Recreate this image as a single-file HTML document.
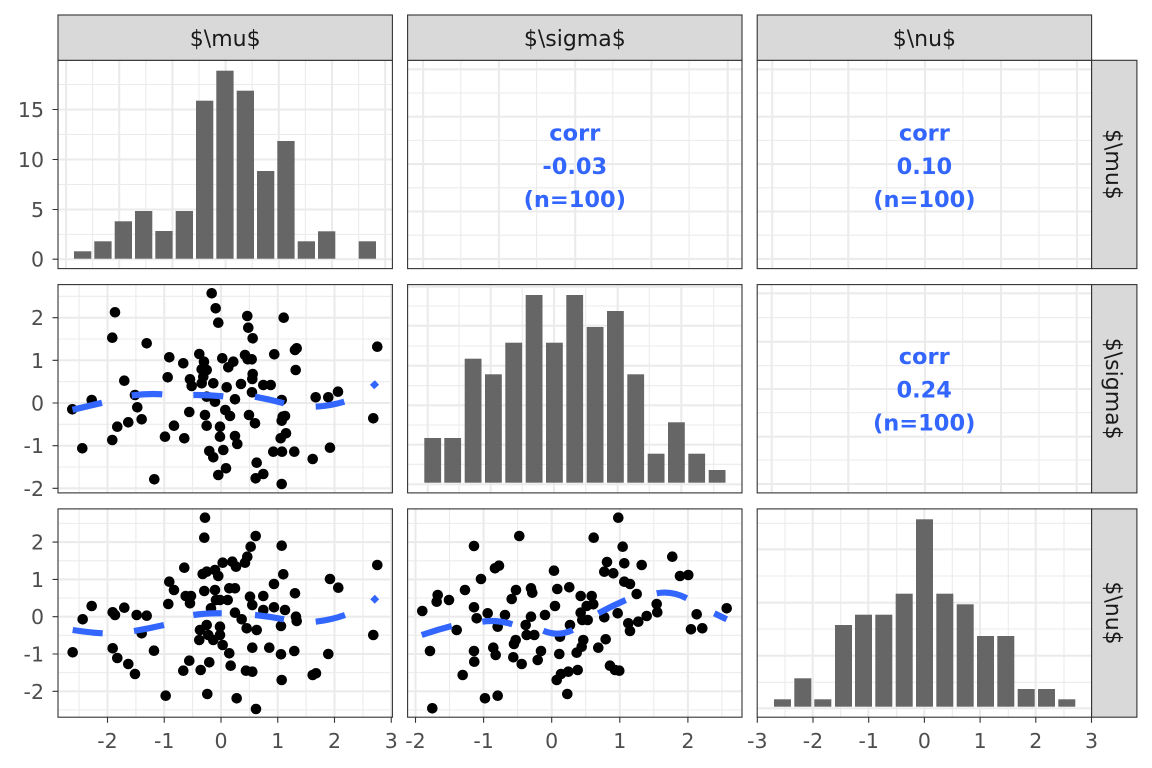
<!DOCTYPE html>
<html><head><meta charset="utf-8"><style>
html,body{margin:0;padding:0;background:#fff;}
svg{display:block;}
.gM{stroke:#EBEBEB;stroke-width:2.1;fill:none;}
.gm{stroke:#EBEBEB;stroke-width:1.05;fill:none;}
.bd{fill:none;stroke:#333;stroke-width:1.1;}
.st{fill:#D9D9D9;stroke:#333;stroke-width:1.1;}
.tx{font-family:"DejaVu Sans","Liberation Sans",sans-serif;font-size:22px;fill:#1A1A1A;}
.ax{font-family:"DejaVu Sans","Liberation Sans",sans-serif;font-size:20.5px;fill:#4D4D4D;}
.cr{font-family:"DejaVu Sans","Liberation Sans",sans-serif;font-size:22.5px;font-weight:bold;fill:#3366FF;}
.bar{fill:#595959;fill-opacity:0.92;}
.sm{fill:none;stroke:#3366FF;stroke-width:6.2;stroke-linecap:butt;}
.tk{stroke:#333;stroke-width:1.1;}
</style></head><body>
<svg width="1152" height="768" viewBox="0 0 1152 768" xmlns="http://www.w3.org/2000/svg">
<rect width="1152" height="768" fill="#fff"/>

<!-- ===== Panel 1,1 ===== -->
<rect x="58" y="60.3" width="334.4" height="208.3" fill="#fff"/>
<path class="gm" d="M92.6 60.3V268.6M145.8 60.3V268.6M199 60.3V268.6M252.2 60.3V268.6M305.4 60.3V268.6M358.6 60.3V268.6M58 234.4H392.4M58 184.5H392.4M58 134.5H392.4M58 84.5H392.4"/>
<path class="gM" d="M66 60.3V268.6M119.2 60.3V268.6M172.4 60.3V268.6M225.6 60.3V268.6M278.8 60.3V268.6M332 60.3V268.6M385.2 60.3V268.6M58 259.2H392.4M58 209.5H392.4M58 159.5H392.4M58 109.5H392.4"/>
<g class="bar">
<rect x="74" y="251.3" width="17.3" height="7.4"/>
<rect x="94.3" y="241.3" width="17.3" height="17.4"/>
<rect x="114.7" y="221.3" width="17.3" height="37.4"/>
<rect x="135" y="211" width="17.3" height="47.7"/>
<rect x="155.3" y="231" width="17.3" height="27.7"/>
<rect x="175.7" y="211" width="17.3" height="47.7"/>
<rect x="196" y="100.7" width="17.3" height="158"/>
<rect x="216.3" y="70.7" width="17.3" height="188"/>
<rect x="236.7" y="90.7" width="17.3" height="168"/>
<rect x="257" y="171" width="17.3" height="87.7"/>
<rect x="277.3" y="141" width="17.3" height="117.7"/>
<rect x="297.7" y="241.3" width="17.3" height="17.4"/>
<rect x="318" y="231.3" width="17.3" height="27.4"/>
<rect x="358.7" y="241.3" width="17.3" height="17.4"/>
</g>
<rect class="bd" x="58" y="60.3" width="334.4" height="208.3"/>

<!-- ===== Panel 1,2 ===== -->
<path class="gm" d="M460.8 60.3V268.6M536.6 60.3V268.6M612.8 60.3V268.6M689.1 60.3V268.6M407.6 93H742M407.6 140.4H742M407.6 187.8H742M407.6 235.2H742"/>
<path class="gM" d="M423.1 60.3V268.6M498.9 60.3V268.6M575.2 60.3V268.6M651.4 60.3V268.6M727.7 60.3V268.6M407.6 69.3H742M407.6 116.7H742M407.6 164.1H742M407.6 211.5H742M407.6 258.9H742"/>
<text class="cr" x="574.8" y="140.5" text-anchor="middle">corr</text>
<text class="cr" x="574.8" y="173.8" text-anchor="middle">-0.03</text>
<text class="cr" x="574.8" y="207.1" text-anchor="middle">(n=100)</text>
<rect class="bd" x="407.6" y="60.3" width="334.4" height="208.3"/>

<!-- ===== Panel 1,3 ===== -->
<path class="gm" d="M810.5 60.3V268.6M886.7 60.3V268.6M962.9 60.3V268.6M1039 60.3V268.6M757.2 93H1091.6M757.2 140.4H1091.6M757.2 187.8H1091.6M757.2 235.2H1091.6"/>
<path class="gM" d="M772.2 60.3V268.6M848.3 60.3V268.6M925 60.3V268.6M1001 60.3V268.6M1077 60.3V268.6M757.2 69.3H1091.6M757.2 116.7H1091.6M757.2 164.1H1091.6M757.2 211.5H1091.6M757.2 258.9H1091.6"/>
<text class="cr" x="924.4" y="140.5" text-anchor="middle">corr</text>
<text class="cr" x="924.4" y="173.8" text-anchor="middle">0.10</text>
<text class="cr" x="924.4" y="207.1" text-anchor="middle">(n=100)</text>
<rect class="bd" x="757.2" y="60.3" width="334.4" height="208.3"/>

<!-- ===== Panel 2,1 ===== -->
<path class="gm" d="M79.1 284.6V492.9M135.9 284.6V492.9M192.6 284.6V492.9M249.4 284.6V492.9M306.1 284.6V492.9M362.9 284.6V492.9M58 296.3H392.4M58 339H392.4M58 381.7H392.4M58 424.3H392.4M58 467H392.4"/>
<path class="gM" d="M107.5 284.6V492.9M164.25 284.6V492.9M221 284.6V492.9M277.75 284.6V492.9M334.5 284.6V492.9M391.25 284.6V492.9M58 317.7H392.4M58 360.3H392.4M58 403H392.4M58 445.7H392.4M58 488.3H392.4"/>
<g fill="#000">
<circle cx="211.7" cy="293.3" r="5.3"/><circle cx="215.7" cy="308.3" r="5.3"/><circle cx="218.3" cy="322.7" r="5.3"/><circle cx="115" cy="312.3" r="5.3"/><circle cx="112.3" cy="337.7" r="5.3"/><circle cx="146.7" cy="343.3" r="5.3"/><circle cx="169.3" cy="357.3" r="5.3"/><circle cx="183.3" cy="363.3" r="5.3"/><circle cx="199.3" cy="354" r="5.3"/><circle cx="204" cy="361.7" r="5.3"/><circle cx="201.7" cy="369.3" r="5.3"/><circle cx="206.7" cy="370" r="5.3"/><circle cx="222.3" cy="358.3" r="5.3"/><circle cx="228.3" cy="367.3" r="5.3"/><circle cx="167.7" cy="377.3" r="5.3"/><circle cx="124.3" cy="380.7" r="5.3"/><circle cx="190" cy="379.3" r="5.3"/><circle cx="191.7" cy="386" r="5.3"/><circle cx="201.7" cy="383.3" r="5.3"/><circle cx="213.3" cy="383.3" r="5.3"/><circle cx="226.7" cy="387.3" r="5.3"/><circle cx="135" cy="395" r="5.3"/><circle cx="91.7" cy="400" r="5.3"/><circle cx="72.3" cy="409.3" r="5.3"/><circle cx="137.3" cy="407.3" r="5.3"/><circle cx="206.7" cy="396.7" r="5.3"/><circle cx="215" cy="401.7" r="5.3"/><circle cx="189.3" cy="412" r="5.3"/><circle cx="205" cy="415" r="5.3"/><circle cx="141.7" cy="419.3" r="5.3"/><circle cx="128.3" cy="422.3" r="5.3"/><circle cx="117.3" cy="426.7" r="5.3"/><circle cx="174" cy="425.7" r="5.3"/><circle cx="206.7" cy="425.7" r="5.3"/><circle cx="220" cy="426.7" r="5.3"/><circle cx="165" cy="436.7" r="5.3"/><circle cx="184.3" cy="438.3" r="5.3"/><circle cx="220" cy="436.7" r="5.3"/><circle cx="112.3" cy="440" r="5.3"/><circle cx="82.3" cy="448.3" r="5.3"/><circle cx="209.3" cy="451" r="5.3"/><circle cx="213.3" cy="457.3" r="5.3"/><circle cx="223.3" cy="450" r="5.3"/><circle cx="226" cy="468.3" r="5.3"/><circle cx="218.3" cy="475" r="5.3"/><circle cx="154.3" cy="479.3" r="5.3"/><circle cx="203.3" cy="376.7" r="5.3"/>
<circle cx="225.3" cy="410" r="5.3"/><circle cx="233.3" cy="361.7" r="5.3"/><circle cx="235" cy="399.3" r="5.3"/><circle cx="230" cy="416" r="5.3"/><circle cx="235" cy="436" r="5.3"/><circle cx="237.3" cy="444" r="5.3"/><circle cx="241" cy="384" r="5.3"/><circle cx="247.3" cy="316" r="5.3"/><circle cx="248.3" cy="327.7" r="5.3"/><circle cx="252.7" cy="338.3" r="5.3"/><circle cx="245" cy="355" r="5.3"/><circle cx="247.7" cy="359.3" r="5.3"/><circle cx="251.7" cy="359.3" r="5.3"/><circle cx="252.7" cy="374" r="5.3"/><circle cx="252.3" cy="379" r="5.3"/><circle cx="252" cy="392.3" r="5.3"/><circle cx="263.3" cy="385" r="5.3"/><circle cx="270.7" cy="385" r="5.3"/><circle cx="274.3" cy="354.3" r="5.3"/><circle cx="283.7" cy="317.7" r="5.3"/><circle cx="281.7" cy="400" r="5.3"/><circle cx="249" cy="415" r="5.3"/><circle cx="255" cy="423.3" r="5.3"/><circle cx="256.7" cy="462.7" r="5.3"/><circle cx="255.7" cy="478.3" r="5.3"/><circle cx="263.3" cy="474" r="5.3"/><circle cx="282.7" cy="416.7" r="5.3"/><circle cx="285" cy="416" r="5.3"/><circle cx="281.7" cy="420.7" r="5.3"/><circle cx="286" cy="433.3" r="5.3"/><circle cx="280.7" cy="438.3" r="5.3"/><circle cx="273.3" cy="451.7" r="5.3"/><circle cx="282" cy="451.7" r="5.3"/><circle cx="294.3" cy="451.7" r="5.3"/><circle cx="281.7" cy="484" r="5.3"/><circle cx="295" cy="350" r="5.3"/><circle cx="296.7" cy="348.3" r="5.3"/><circle cx="295.7" cy="370" r="5.3"/><circle cx="315.7" cy="397.3" r="5.3"/><circle cx="328.3" cy="397.3" r="5.3"/><circle cx="338" cy="391.7" r="5.3"/><circle cx="312.7" cy="459" r="5.3"/><circle cx="330" cy="447.7" r="5.3"/><circle cx="377.3" cy="346.7" r="5.3"/><circle cx="373.3" cy="418.3" r="5.3"/>
</g>
<g class="sm">
<path d="M72.5 409.8L102 402.8"/>
<path d="M131.7 395.5Q147 393.3 162.3 394.3"/>
<path d="M193.3 395Q208 394.8 223.3 396.3"/>
<path d="M255 396.7Q270 399.5 284 403.3"/>
<path d="M315.7 406.7Q330 406 344.3 401.7"/>
<path d="M372 387L377 382.5"/>
</g>
<rect class="bd" x="58" y="284.6" width="334.4" height="208.3"/>

<!-- ===== Panel 2,2 ===== -->
<path class="gm" d="M459 284.6V492.9M522.3 284.6V492.9M585.7 284.6V492.9M649.3 284.6V492.9M713.7 284.6V492.9M407.6 464.3H742M407.6 425H742M407.6 385.7H742M407.6 346H742M407.6 306H742"/>
<path class="gM" d="M427.7 284.6V492.9M490.7 284.6V492.9M554 284.6V492.9M617.7 284.6V492.9M681.3 284.6V492.9M407.6 484.3H742M407.6 444.7H742M407.6 405.3H742M407.6 365.7H742M407.6 325.7H742M407.6 286.7H742"/>
<g class="bar">
<rect x="424.3" y="438" width="16.8" height="44.7"/>
<rect x="444.3" y="438" width="16.8" height="44.7"/>
<rect x="464.7" y="358.7" width="16.8" height="124"/>
<rect x="485" y="374.3" width="16.8" height="108.4"/>
<rect x="505.3" y="342.7" width="16.8" height="140"/>
<rect x="525.7" y="295" width="16.8" height="187.7"/>
<rect x="546" y="342.7" width="16.8" height="140"/>
<rect x="566.3" y="295" width="16.8" height="187.7"/>
<rect x="586.7" y="327" width="16.8" height="155.7"/>
<rect x="607" y="311" width="16.8" height="171.7"/>
<rect x="627.3" y="374.3" width="16.8" height="108.4"/>
<rect x="647.7" y="453.7" width="16.8" height="29"/>
<rect x="668" y="422.3" width="16.8" height="60.4"/>
<rect x="688.3" y="453.7" width="16.8" height="29"/>
<rect x="708.7" y="470" width="16.8" height="12.7"/>
</g>
<rect class="bd" x="407.6" y="284.6" width="334.4" height="208.3"/>

<!-- ===== Panel 2,3 ===== -->
<path class="gm" d="M810.7 284.6V492.9M886.7 284.6V492.9M962.7 284.6V492.9M1039 284.6V492.9M757.2 317.7H1091.6M757.2 365.7H1091.6M757.2 412.7H1091.6M757.2 460H1091.6"/>
<path class="gM" d="M771.7 284.6V492.9M848.3 284.6V492.9M925 284.6V492.9M1001 284.6V492.9M1076.7 284.6V492.9M757.2 293.3H1091.6M757.2 341.7H1091.6M757.2 389H1091.6M757.2 436.7H1091.6M757.2 484H1091.6"/>
<text class="cr" x="924.2" y="364" text-anchor="middle">corr</text>
<text class="cr" x="924.2" y="397.3" text-anchor="middle">0.24</text>
<text class="cr" x="924.2" y="430.6" text-anchor="middle">(n=100)</text>
<rect class="bd" x="757.2" y="284.6" width="334.4" height="208.3"/>

<!-- ===== Panel 3,1 ===== -->
<path class="gm" d="M79.1 508.9V717.2M135.9 508.9V717.2M192.6 508.9V717.2M249.4 508.9V717.2M306.1 508.9V717.2M362.9 508.9V717.2M58 523.4H392.4M58 560.8H392.4M58 598H392.4M58 635.3H392.4M58 672.6H392.4M58 709.9H392.4"/>
<path class="gM" d="M107.5 508.9V717.2M164.25 508.9V717.2M221 508.9V717.2M277.75 508.9V717.2M334.5 508.9V717.2M391.25 508.9V717.2M58 542.1H392.4M58 579.4H392.4M58 616.7H392.4M58 654H392.4M58 691.3H392.4"/>
<g fill="#000">
<circle cx="72.7" cy="652.3" r="5.3"/><circle cx="82.7" cy="619.3" r="5.3"/><circle cx="91.7" cy="606" r="5.3"/><circle cx="112.7" cy="612.3" r="5.3"/><circle cx="115" cy="615" r="5.3"/><circle cx="124.3" cy="607.7" r="5.3"/><circle cx="112.7" cy="648.3" r="5.3"/><circle cx="117.3" cy="658" r="5.3"/><circle cx="128.3" cy="664" r="5.3"/><circle cx="135" cy="674" r="5.3"/><circle cx="136.7" cy="615" r="5.3"/><circle cx="146.7" cy="615.7" r="5.3"/><circle cx="141.7" cy="633.3" r="5.3"/><circle cx="154" cy="650.7" r="5.3"/><circle cx="165.7" cy="695.7" r="5.3"/><circle cx="168.3" cy="604" r="5.3"/><circle cx="169.3" cy="581.7" r="5.3"/><circle cx="174" cy="590" r="5.3"/><circle cx="184.3" cy="567.7" r="5.3"/><circle cx="191" cy="596" r="5.3"/><circle cx="190" cy="603.3" r="5.3"/><circle cx="189.3" cy="660.7" r="5.3"/><circle cx="183.3" cy="670.7" r="5.3"/><circle cx="200.7" cy="670" r="5.3"/><circle cx="205" cy="517.7" r="5.3"/><circle cx="204.3" cy="537.7" r="5.3"/><circle cx="202.7" cy="574" r="5.3"/><circle cx="206.7" cy="571.7" r="5.3"/><circle cx="204.3" cy="591" r="5.3"/><circle cx="215" cy="590" r="5.3"/><circle cx="218.3" cy="576" r="5.3"/><circle cx="215" cy="570" r="5.3"/><circle cx="222.7" cy="562.7" r="5.3"/><circle cx="232.3" cy="561.7" r="5.3"/><circle cx="236" cy="566.7" r="5.3"/><circle cx="245" cy="562.7" r="5.3"/><circle cx="247.3" cy="556.7" r="5.3"/><circle cx="250.7" cy="546.7" r="5.3"/><circle cx="255.7" cy="536" r="5.3"/><circle cx="216" cy="600" r="5.3"/><circle cx="220" cy="600" r="5.3"/><circle cx="227.7" cy="600" r="5.3"/><circle cx="229.3" cy="588.3" r="5.3"/><circle cx="235" cy="588.3" r="5.3"/><circle cx="211" cy="608.3" r="5.3"/><circle cx="200" cy="630" r="5.3"/><circle cx="199.3" cy="640" r="5.3"/><circle cx="206.7" cy="625" r="5.3"/><circle cx="208.3" cy="635" r="5.3"/><circle cx="213.3" cy="640" r="5.3"/><circle cx="220" cy="626.7" r="5.3"/><circle cx="220" cy="635" r="5.3"/><circle cx="222.7" cy="645" r="5.3"/><circle cx="229.3" cy="653.3" r="5.3"/><circle cx="209.3" cy="662.3" r="5.3"/><circle cx="207.3" cy="694" r="5.3"/><circle cx="230.7" cy="665.7" r="5.3"/><circle cx="236.7" cy="698.3" r="5.3"/><circle cx="235" cy="612.7" r="5.3"/><circle cx="241.7" cy="619.3" r="5.3"/><circle cx="246.7" cy="628.3" r="5.3"/><circle cx="256.7" cy="630" r="5.3"/><circle cx="252.3" cy="647.7" r="5.3"/><circle cx="246" cy="670.7" r="5.3"/><circle cx="252.3" cy="671.7" r="5.3"/><circle cx="256" cy="709" r="5.3"/><circle cx="250" cy="596.7" r="5.3"/><circle cx="252.3" cy="605" r="5.3"/><circle cx="263.3" cy="596" r="5.3"/><circle cx="263.3" cy="610" r="5.3"/><circle cx="269.3" cy="647.7" r="5.3"/><circle cx="274" cy="584" r="5.3"/><circle cx="274" cy="607.3" r="5.3"/><circle cx="281.7" cy="545.7" r="5.3"/><circle cx="283.3" cy="574.3" r="5.3"/><circle cx="281" cy="626" r="5.3"/><circle cx="281" cy="654.3" r="5.3"/><circle cx="281.7" cy="680" r="5.3"/><circle cx="285" cy="610" r="5.3"/><circle cx="295" cy="593.3" r="5.3"/><circle cx="296" cy="616.7" r="5.3"/><circle cx="296.7" cy="621" r="5.3"/><circle cx="294.3" cy="651" r="5.3"/><circle cx="312.7" cy="675" r="5.3"/><circle cx="316" cy="673.3" r="5.3"/><circle cx="328.3" cy="654" r="5.3"/><circle cx="330" cy="579" r="5.3"/><circle cx="338.3" cy="587.7" r="5.3"/><circle cx="377.3" cy="565" r="5.3"/><circle cx="373.3" cy="635" r="5.3"/><circle cx="185.7" cy="596" r="5.3"/>
</g>
<g class="sm">
<path d="M72.7 630Q88 632.5 102.7 633.3"/>
<path d="M134 631Q149 628.5 164 625"/>
<path d="M193.3 615Q207 613 221.7 613.3"/>
<path d="M255 615Q270 616.5 284 619.3"/>
<path d="M315.7 621.7Q331 620 345 615"/>
<path d="M372.5 601.5L377 597"/>
</g>
<rect class="bd" x="58" y="508.9" width="334.4" height="208.3"/>

<!-- ===== Panel 3,2 ===== -->
<path class="gm" d="M449.5 508.9V717.2M517.6 508.9V717.2M585.7 508.9V717.2M653.8 508.9V717.2M721.9 508.9V717.2M407.6 523.4H742M407.6 560.8H742M407.6 598H742M407.6 635.3H742M407.6 672.6H742M407.6 709.9H742"/>
<path class="gM" d="M415.5 508.9V717.2M483.6 508.9V717.2M551.7 508.9V717.2M619.8 508.9V717.2M687.9 508.9V717.2M407.6 542.1H742M407.6 579.4H742M407.6 616.7H742M407.6 654H742M407.6 691.3H742"/>
<g fill="#000">
<circle cx="432.3" cy="708.3" r="5.3"/><circle cx="422.3" cy="611" r="5.3"/><circle cx="437.7" cy="595" r="5.3"/><circle cx="436.7" cy="601.7" r="5.3"/><circle cx="449" cy="600" r="5.3"/><circle cx="430" cy="651" r="5.3"/><circle cx="456.7" cy="630" r="5.3"/><circle cx="462.7" cy="675" r="5.3"/><circle cx="465" cy="590" r="5.3"/><circle cx="474" cy="546" r="5.3"/><circle cx="481" cy="579" r="5.3"/><circle cx="474" cy="607.3" r="5.3"/><circle cx="476.7" cy="618.3" r="5.3"/><circle cx="487.7" cy="613.3" r="5.3"/><circle cx="474" cy="651" r="5.3"/><circle cx="474.3" cy="661.7" r="5.3"/><circle cx="493.3" cy="647.7" r="5.3"/><circle cx="495.7" cy="655" r="5.3"/><circle cx="485" cy="698.3" r="5.3"/><circle cx="497.7" cy="695.7" r="5.3"/><circle cx="495" cy="568.3" r="5.3"/><circle cx="499" cy="565.7" r="5.3"/><circle cx="497.7" cy="626.7" r="5.3"/><circle cx="505" cy="615" r="5.3"/><circle cx="511.7" cy="599" r="5.3"/><circle cx="516" cy="590" r="5.3"/><circle cx="514" cy="644" r="5.3"/><circle cx="515.7" cy="640" r="5.3"/><circle cx="513.3" cy="657.3" r="5.3"/><circle cx="521.7" cy="664" r="5.3"/><circle cx="519.3" cy="536" r="5.3"/><circle cx="531" cy="588.3" r="5.3"/><circle cx="532.3" cy="592.7" r="5.3"/><circle cx="531" cy="616.7" r="5.3"/><circle cx="525.7" cy="625" r="5.3"/><circle cx="526.7" cy="635" r="5.3"/><circle cx="534.3" cy="635" r="5.3"/><circle cx="541" cy="651" r="5.3"/><circle cx="537.7" cy="660" r="5.3"/><circle cx="545" cy="615" r="5.3"/><circle cx="554" cy="570.7" r="5.3"/><circle cx="555" cy="606" r="5.3"/><circle cx="557.3" cy="589" r="5.3"/><circle cx="560" cy="636.7" r="5.3"/><circle cx="559.3" cy="654" r="5.3"/><circle cx="569.3" cy="587.3" r="5.3"/><circle cx="570" cy="625" r="5.3"/><circle cx="556.7" cy="680" r="5.3"/><circle cx="561" cy="674" r="5.3"/><circle cx="568.3" cy="671.7" r="5.3"/><circle cx="577.7" cy="670" r="5.3"/><circle cx="567.3" cy="694" r="5.3"/><circle cx="580.7" cy="596" r="5.3"/><circle cx="591.7" cy="596" r="5.3"/><circle cx="580.7" cy="612.7" r="5.3"/><circle cx="586.7" cy="606" r="5.3"/><circle cx="593.3" cy="604.3" r="5.3"/><circle cx="582.3" cy="620" r="5.3"/><circle cx="587.7" cy="620" r="5.3"/><circle cx="583.3" cy="640" r="5.3"/><circle cx="581.7" cy="646.7" r="5.3"/><circle cx="576.7" cy="652.7" r="5.3"/><circle cx="598.3" cy="647.7" r="5.3"/><circle cx="605.7" cy="639.3" r="5.3"/><circle cx="604.3" cy="617.3" r="5.3"/><circle cx="593.7" cy="537.7" r="5.3"/><circle cx="607" cy="562" r="5.3"/><circle cx="604.3" cy="571.7" r="5.3"/><circle cx="613.3" cy="573.3" r="5.3"/><circle cx="618.3" cy="517.7" r="5.3"/><circle cx="622.7" cy="546.7" r="5.3"/><circle cx="624.3" cy="563.3" r="5.3"/><circle cx="624.3" cy="581.7" r="5.3"/><circle cx="630" cy="584" r="5.3"/><circle cx="636.7" cy="594" r="5.3"/><circle cx="641.7" cy="565" r="5.3"/><circle cx="617.7" cy="613.3" r="5.3"/><circle cx="628.3" cy="623.3" r="5.3"/><circle cx="630" cy="631" r="5.3"/><circle cx="638.3" cy="621.7" r="5.3"/><circle cx="646.7" cy="616" r="5.3"/><circle cx="656.7" cy="604" r="5.3"/><circle cx="657.3" cy="612.3" r="5.3"/><circle cx="610" cy="665.7" r="5.3"/><circle cx="615" cy="670" r="5.3"/><circle cx="619.3" cy="670.7" r="5.3"/><circle cx="672.3" cy="556.7" r="5.3"/><circle cx="680" cy="576" r="5.3"/><circle cx="688.3" cy="575" r="5.3"/><circle cx="696.7" cy="614.3" r="5.3"/><circle cx="691" cy="629.3" r="5.3"/><circle cx="702.3" cy="628.3" r="5.3"/><circle cx="726.7" cy="608.3" r="5.3"/>
</g>
<g class="sm">
<path d="M421.7 635Q437 629.8 451.7 626"/>
<path d="M482.3 621.7Q497 619.5 512.3 624.3"/>
<path d="M543.3 630.7Q558 637 572.7 630"/>
<path d="M598.3 613.3Q612 606 625.7 600"/>
<path d="M656.7 593.3Q672 590.5 686.7 598.3"/>
<path d="M714.3 613.3L726.7 619.3"/>
</g>
<rect class="bd" x="407.6" y="508.9" width="334.4" height="208.3"/>

<!-- ===== Panel 3,3 ===== -->
<path class="gm" d="M785 508.9V717.2M840.7 508.9V717.2M896.7 508.9V717.2M952.3 508.9V717.2M1008.3 508.9V717.2M1064 508.9V717.2M757.2 682.3H1091.6M757.2 629H1091.6M757.2 576H1091.6M757.2 523.3H1091.6"/>
<path class="gM" d="M812.7 508.9V717.2M868.3 508.9V717.2M924.3 508.9V717.2M980 508.9V717.2M1035.7 508.9V717.2M757.2 708.3H1091.6M757.2 655.7H1091.6M757.2 602.7H1091.6M757.2 549.3H1091.6"/>
<g class="bar">
<rect x="774" y="699.3" width="17" height="7.4"/>
<rect x="794.3" y="678.3" width="17" height="28.4"/>
<rect x="814.3" y="699.3" width="17" height="7.4"/>
<rect x="835" y="625" width="17" height="81.7"/>
<rect x="855" y="614.7" width="17" height="92"/>
<rect x="875.3" y="614.7" width="17" height="92"/>
<rect x="895.7" y="593.7" width="17" height="113"/>
<rect x="916" y="519.3" width="17" height="187.4"/>
<rect x="936.3" y="593.7" width="17" height="113"/>
<rect x="956.7" y="604.3" width="17" height="102.4"/>
<rect x="977" y="636" width="17" height="70.7"/>
<rect x="997.3" y="636" width="17" height="70.7"/>
<rect x="1017.7" y="689" width="17" height="17.7"/>
<rect x="1038" y="689" width="17" height="17.7"/>
<rect x="1058.3" y="699.3" width="17" height="7.4"/>
</g>
<rect class="bd" x="757.2" y="508.9" width="334.4" height="208.3"/>

<!-- ===== Top strips ===== -->
<rect class="st" x="58" y="15" width="334.4" height="45.3"/>
<rect class="st" x="407.6" y="15" width="334.4" height="45.3"/>
<rect class="st" x="757.2" y="15" width="334.4" height="45.3"/>
<text class="tx" x="225.2" y="46" text-anchor="middle">$\mu$</text>
<text class="tx" x="574.8" y="46" text-anchor="middle">$\sigma$</text>
<text class="tx" x="924.4" y="46" text-anchor="middle">$\nu$</text>

<!-- ===== Right strips ===== -->
<rect class="st" x="1091.6" y="60.3" width="45.3" height="208.3"/>
<rect class="st" x="1091.6" y="284.6" width="45.3" height="208.3"/>
<rect class="st" x="1091.6" y="508.9" width="45.3" height="208.3"/>
<text class="tx" transform="translate(1106 164.4) rotate(90)" text-anchor="middle">$\mu$</text>
<text class="tx" transform="translate(1106 388.7) rotate(90)" text-anchor="middle">$\sigma$</text>
<text class="tx" transform="translate(1106 613) rotate(90)" text-anchor="middle">$\nu$</text>

<!-- ===== Left ticks & labels ===== -->
<path class="tk" d="M52.5 259.2H58M52.5 209.5H58M52.5 159.5H58M52.5 109.5H58M52.5 317.7H58M52.5 360.3H58M52.5 403H58M52.5 445.7H58M52.5 488.3H58M52.5 542.1H58M52.5 579.4H58M52.5 616.7H58M52.5 654H58M52.5 691.3H58"/>
<g class="ax" text-anchor="end">
<text x="44" y="266.7">0</text>
<text x="44" y="217">5</text>
<text x="44" y="167">10</text>
<text x="44" y="117">15</text>
<text x="44" y="325.2">2</text>
<text x="44" y="367.8">1</text>
<text x="44" y="410.5">0</text>
<text x="44" y="453.2">-1</text>
<text x="44" y="495.8">-2</text>
<text x="44" y="549.6">2</text>
<text x="44" y="586.9">1</text>
<text x="44" y="624.2">0</text>
<text x="44" y="661.5">-1</text>
<text x="44" y="698.8">-2</text>
</g>

<!-- ===== Bottom ticks & labels ===== -->
<path class="tk" d="M107.5 717.2V722.7M164.25 717.2V722.7M221 717.2V722.7M277.75 717.2V722.7M334.5 717.2V722.7M391.25 717.2V722.7M415.5 717.2V722.7M483.6 717.2V722.7M551.7 717.2V722.7M619.8 717.2V722.7M687.9 717.2V722.7M757.3 717.2V722.7M813 717.2V722.7M868.7 717.2V722.7M924.4 717.2V722.7M980.1 717.2V722.7M1035.8 717.2V722.7M1091.5 717.2V722.7"/>
<g class="ax" text-anchor="middle">
<text x="107.5" y="748">-2</text>
<text x="164.25" y="748">-1</text>
<text x="221" y="748">0</text>
<text x="277.75" y="748">1</text>
<text x="334.5" y="748">2</text>
<text x="391.25" y="748">3</text>
<text x="415.5" y="748">-2</text>
<text x="483.6" y="748">-1</text>
<text x="551.7" y="748">0</text>
<text x="619.8" y="748">1</text>
<text x="687.9" y="748">2</text>
<text x="757.3" y="748">-3</text>
<text x="813" y="748">-2</text>
<text x="868.7" y="748">-1</text>
<text x="924.4" y="748">0</text>
<text x="980.1" y="748">1</text>
<text x="1035.8" y="748">2</text>
<text x="1091.5" y="748">3</text>
</g>
</svg>
</body></html>
